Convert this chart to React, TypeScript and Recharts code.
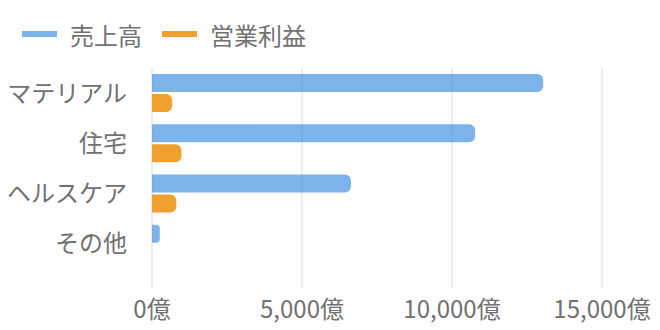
import React from 'react';
import { BarChart, Bar, XAxis, YAxis, CartesianGrid, Legend } from 'recharts';

const categories = ['マテリアル', '住宅', 'ヘルスケア', 'その他'];
const salesValues = [13040, 10770, 6630, 260];
const profitValues = [670, 980, 810, 0];
const xTicks = [0, 5000, 10000, 15000];
const seriesNames = ['売上高', '営業利益'];
const seriesColors = ['rgba(61,143,224,0.68)', '#f0a02c'];

const data = categories.map((name, i) => ({
  name,
  sales: salesValues[i],
  profit: profitValues[i],
}));

const FONT = '"Noto Sans CJK JP", "Noto Sans", sans-serif';
const TEXT = '#717171';

const renderLegend = () => (
  <div style={{ display: 'flex', alignItems: 'center', height: 48, paddingLeft: 22 }}>
    {seriesNames.map((name, i) => (
      <div key={name} style={{ display: 'flex', alignItems: 'center', marginRight: 20 }}>
        <span style={{ width: 35, height: 6, background: seriesColors[i], display: 'inline-block', marginRight: 13 }} />
        <span style={{ fontSize: 24, color: TEXT, fontFamily: FONT }}>{name}</span>
      </div>
    ))}
  </div>
);

const App = () => {
  return (
    <div style={{ position: 'absolute', left: 0, top: 0, width: 660, height: 330, background: '#fff' }}>
      <BarChart
        width={660}
        height={330}
        data={data}
        layout="vertical"
        margin={{ top: 10, right: 58, left: 0, bottom: 0 }}
        barSize={18}
        barGap={2}
      >
        <CartesianGrid horizontal={false} stroke="#e6e6e6" strokeWidth={1.5} />
        <XAxis
          type="number"
          domain={[0, 15000]}
          ticks={xTicks}
          interval={0}
          axisLine={false}
          tickLine={false}
          tickSize={0}
          tickMargin={13}
          height={42}
          tickFormatter={(v) => v.toLocaleString('en-US') + '億'}
          tick={{ fill: TEXT, fontSize: 24, fontFamily: FONT }}
        />
        <YAxis
          type="category"
          dataKey="name"
          width={152}
          axisLine={false}
          tickLine={false}
          tickSize={0}
          tickMargin={25}
          padding={{ top: 0, bottom: 19 }}
          tick={{ fill: TEXT, fontSize: 24, fontFamily: FONT }}
        />
        <Legend verticalAlign="top" align="left" height={58} content={renderLegend} />
        <Bar dataKey="sales" name={seriesNames[0]} fill={seriesColors[0]} radius={[0, 6, 6, 0]} isAnimationActive={false} />
        <Bar dataKey="profit" name={seriesNames[1]} fill={seriesColors[1]} radius={[0, 6, 6, 0]} isAnimationActive={false} />
      </BarChart>
    </div>
  );
};

export default App;
